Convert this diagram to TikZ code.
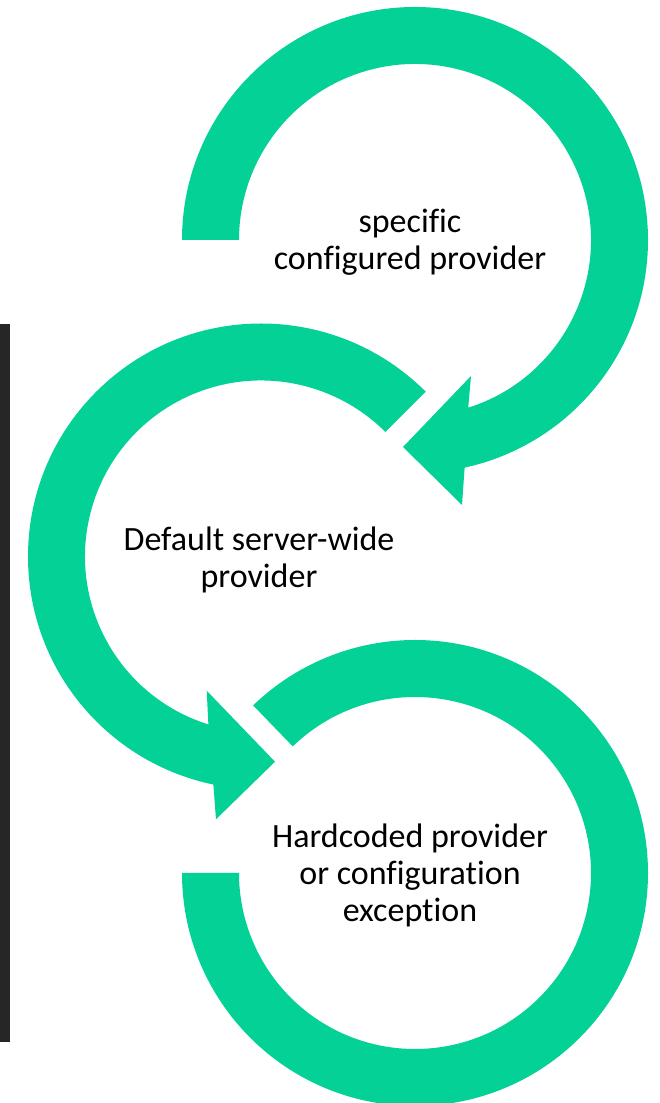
\documentclass[tikz,border=0pt]{standalone}
\usepackage{fontspec}
\setmainfont{Carlito}[Ligatures=NoCommon]
\usetikzlibrary{calc}
\definecolor{ringgreen}{RGB}{3,209,150}
\definecolor{bardark}{RGB}{38,38,38}
\begin{document}
\begin{tikzpicture}[x=1pt,y=1pt,
  ring/.style={fill=ringgreen,draw=none},
  lbl/.style={font=\fontsize{34}{37}\selectfont,align=center,inner sep=0pt,anchor=base,text=black}]
\useasboundingbox (0,0) rectangle (659,1103);
\clip (0,0) rectangle (659,1103);
% dark bar on the left
\fill[bardark] (0,61) rectangle (10,779);
% circle 1 (top)
\coordinate (c1) at (415,863);
\fill[ring] ($(c1)+(180:233)$) arc[start angle=180,end angle=-77.7,radius=233]
  -- (462,598) -- (403,656) -- (471,727)
  -- ($(c1)+(-72.4:176)$) arc[start angle=-72.4,end angle=180,radius=176] -- cycle;
% circle 2 (middle)
\coordinate (c2) at (261,546.5);
\fill[ring] ($(c2)+(45:233)$) arc[start angle=45,end angle=258.2,radius=233]
  -- (216,283.7) -- (275,341.3) -- (206.7,412.3)
  -- ($(c2)+(252.6:176)$) arc[start angle=252.6,end angle=45,radius=176] -- cycle;
% circle 3 (bottom)
\coordinate (c3) at (415,230);
\fill[ring] ($(c3)+(180:233)$) arc[start angle=180,end angle=494,radius=233]
  -- ($(c3)+(494:176)$) arc[start angle=494,end angle=180,radius=176] -- cycle;
% labels (base anchor = baseline of last line)
\node[lbl] (t1) at (410,833) {specific\\configured provider};
\node[lbl] (t2) at (259,515) {Default server-wide\\provider};
\node[lbl] (t3) at (410,181) {Hardcoded provider\\or configuration\\exception};
\end{tikzpicture}
\end{document}
